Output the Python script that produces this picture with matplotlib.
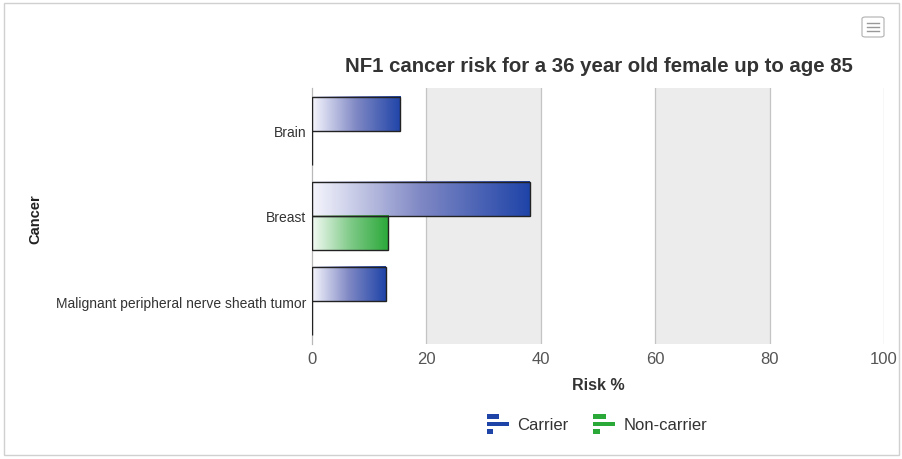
import numpy as np
import matplotlib
matplotlib.use("Agg")
import matplotlib.pyplot as plt
from matplotlib.colors import LinearSegmentedColormap
from matplotlib.patches import Rectangle, FancyBboxPatch
from matplotlib.legend_handler import HandlerBase

plt.rcParams['font.family'] = ['Liberation Sans', 'DejaVu Sans']

# data
categories = ["Brain", "Breast", "Malignant peripheral nerve sheath tumor"]
carrier = [15.4, 38.1, 12.9]
non_carrier = [0.0, 13.3, 0.0]
series_names = ["Carrier", "Non-carrier"]
x_ticks = [0, 20, 40, 60, 80, 100]

blue = "#1f44a8"
green = "#2aa838"
cmaps = {
    "Carrier": LinearSegmentedColormap.from_list("c", ["#f6f6fd", "#7f88c4", blue]),
    "Non-carrier": LinearSegmentedColormap.from_list("n", ["#f4fbf4", "#7fca88", green]),
}

fig = plt.figure(figsize=(9.03, 4.60), dpi=100)
ax = fig.add_axes([312 / 903, 1 - 345 / 460, 572 / 903, 256 / 460])

n = len(categories)
bar_h = 0.4
ax.set_xlim(0, 100)
ax.set_ylim(n - 0.5, -0.5)

# alternate bands
for i in range(1, len(x_ticks) - 1, 2):
    ax.axvspan(x_ticks[i], x_ticks[i + 1], color="#ececec", zorder=0, lw=0)
for t in x_ticks[1:]:
    ax.axvline(t, color="#c4c4c4", lw=0.9, zorder=1)

grad = np.linspace(0, 1, 256).reshape(1, -1)
for vals, name, off in [(carrier, "Carrier", -bar_h / 2), (non_carrier, "Non-carrier", bar_h / 2)]:
    for i, v in enumerate(vals):
        y0 = i + off - bar_h / 2
        y1 = i + off + bar_h / 2
        if v > 0:
            ax.imshow(grad, extent=[0, v, y1, y0], aspect="auto", cmap=cmaps[name], zorder=2)
        ax.barh(i + off, v, height=bar_h, facecolor="none", edgecolor="#222222", lw=1.0, zorder=3)

ax.set_xlim(0, 100)
ax.set_ylim(n - 0.5, -0.5)
ax.set_xticks(x_ticks)
ax.set_xticklabels([str(t) for t in x_ticks], fontsize=12, color="#555555")
ax.set_yticks(range(n))
ax.set_yticklabels(categories, fontsize=10, color="#333333")
ax.tick_params(axis="both", length=0)
ax.tick_params(axis="x", pad=5)
ax.tick_params(axis="y", pad=4)
for s in ["top", "right", "bottom"]:
    ax.spines[s].set_visible(False)
ax.spines["left"].set_color("#b8b8b8")
ax.spines["left"].set_linewidth(0.9)

ax.set_xlabel("Risk %", fontsize=11.5, fontweight="bold", color="#333333", labelpad=8)
fig.text(35 / 903, 1 - 219 / 460, "Cancer", rotation=90, fontsize=10.5, fontweight="bold",
         color="#222222", ha="center", va="center")
fig.text(599 / 903, 1 - 66 / 460, "NF1 cancer risk for a 36 year old female up to age 85",
         fontsize=14.7, fontweight="bold", color="#333333", ha="center", va="center")


class BarIcon(HandlerBase):
    def create_artists(self, legend, orig_handle, xdescent, ydescent, width, height, fontsize, trans):
        c = orig_handle.get_facecolor()
        hh = height / 3.0
        rows = [(0.57, 2), (1.0, 1), (0.3, 0)]
        arts = []
        for frac, k in rows:
            r = Rectangle((-xdescent, -ydescent + k * hh + hh * 0.2), width * frac, hh * 0.6,
                          facecolor=c, edgecolor="none", transform=trans)
            arts.append(r)
        return arts


handles = [Rectangle((0, 0), 1, 1, facecolor=blue), Rectangle((0, 0), 1, 1, facecolor=green)]
fig.legend(handles, series_names, loc="center", bbox_to_anchor=(597 / 903, 1 - 425 / 460),
           ncol=2, frameon=False, fontsize=12, handler_map={Rectangle: BarIcon()},
           handlelength=1.3, handleheight=1.75, handletextpad=0.5, columnspacing=1.5,
           labelcolor="#333333")

# outer border and menu button
fig.patches.append(Rectangle((4 / 903, 4 / 460), 895 / 903, 452 / 460, transform=fig.transFigure,
                             facecolor="none", edgecolor="#d0d0d0", lw=1.0))
fig.patches.append(FancyBboxPatch((862 / 903, 1 - 38 / 460), 22 / 903, 20 / 460,
                                  boxstyle="round,pad=0,rounding_size=0.004",
                                  transform=fig.transFigure, facecolor="white",
                                  edgecolor="#b8b8b8", lw=0.9))
for yy in [24, 28, 32]:
    fig.add_artist(plt.Line2D([867 / 903, 879 / 903], [1 - yy / 460] * 2, color="#999999", lw=1.0))

fig.savefig("out.png", dpi=100)
